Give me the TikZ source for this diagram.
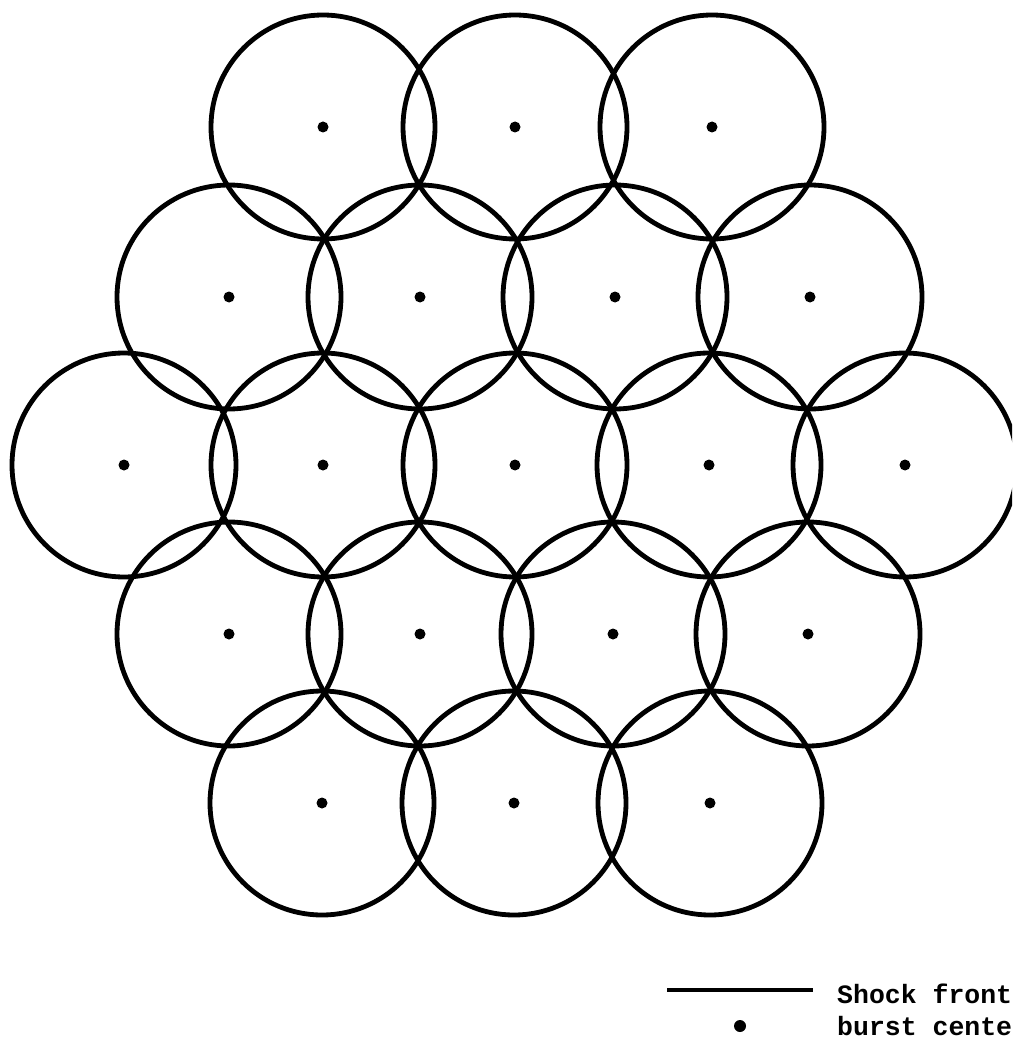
\documentclass[tikz,border=0pt]{standalone}
\usepackage{fontspec}
\newfontfamily\legendfont{Liberation Mono}
\begin{document}
\begin{tikzpicture}[x=1pt,y=-1pt,
  shock/.style={circle,draw=black,line width=4.8pt,minimum size=224pt,inner sep=0pt},
  burst/.style={circle,fill=black,inner sep=0pt,minimum size=11pt},
  legendtext/.style={anchor=base west,inner sep=0pt,font=\legendfont\bfseries\fontsize{26.5}{32}\selectfont}]
\useasboundingbox (0,0) rectangle (1012,1040);
\clip (0,0) rectangle (1012,1040);
\foreach \n/\x/\y in {a1/323/127, a2/515/127, a3/712/127,
  b1/229/297, b2/420/297, b3/615/297, b4/810/297,
  c1/124/465, c2/323/465, c3/515/465, c4/709/465, c5/905/465,
  d1/229/634, d2/420/634, d3/613/634, d4/808/634,
  e1/322/803, e2/514/803, e3/710/803}{
  \node[shock] (\n) at (\x,\y) {};
  \node[burst] (\n dot) at (\n.center) {};
}
% legend
\coordinate (l1) at (667,990);
\coordinate (l2) at (813,990);
\draw[line width=4pt] (l1) -- (l2);
\node[legendtext] (lt1) at (837,1003) {Shock front};
\node[burst,minimum size=12pt] (ld) at (740,1026) {};
\node[legendtext] (lt2) at (837,1035) {burst cente};
\end{tikzpicture}
\end{document}
